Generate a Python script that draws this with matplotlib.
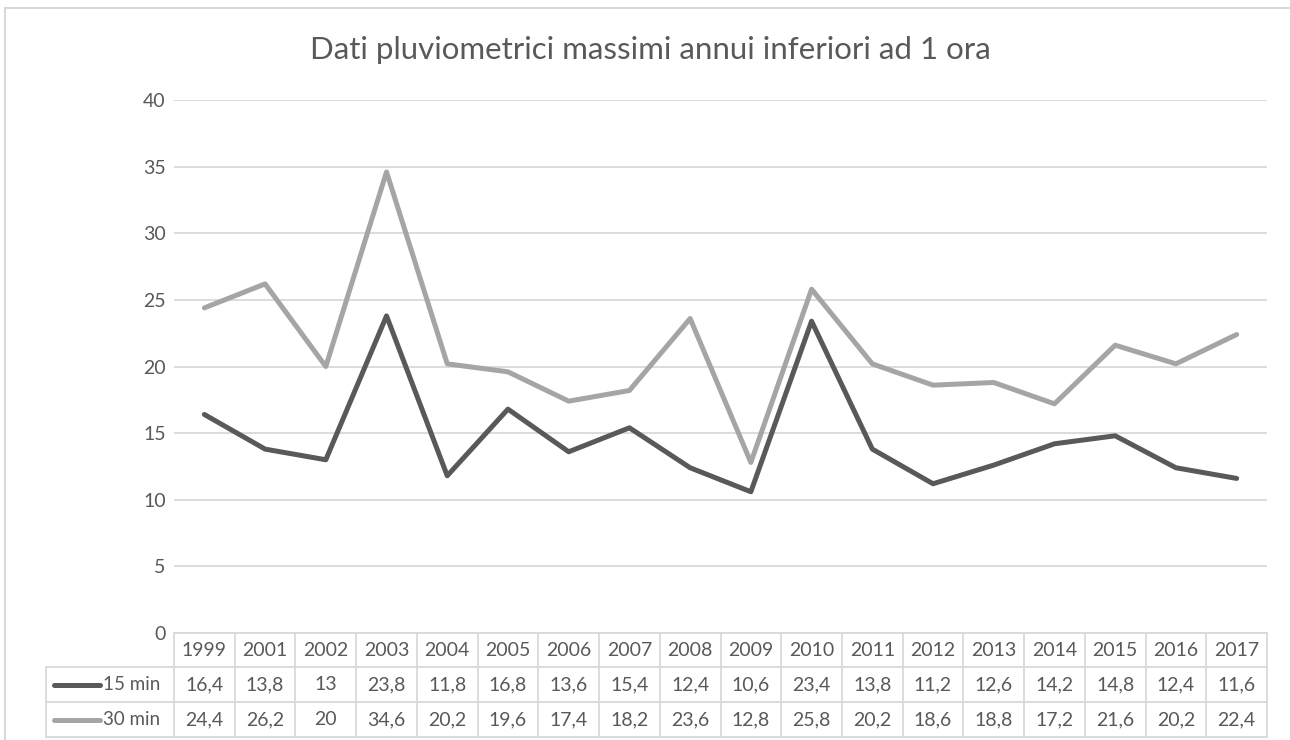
import matplotlib
matplotlib.use("Agg")
import matplotlib.pyplot as plt
from matplotlib.transforms import blended_transform_factory
from matplotlib.lines import Line2D
from matplotlib.patches import Rectangle

years = ["1999", "2001", "2002", "2003", "2004", "2005", "2006", "2007", "2008",
         "2009", "2010", "2011", "2012", "2013", "2014", "2015", "2016", "2017"]
min15 = [16.4, 13.8, 13, 23.8, 11.8, 16.8, 13.6, 15.4, 12.4, 10.6, 23.4, 13.8,
         11.2, 12.6, 14.2, 14.8, 12.4, 11.6]
min30 = [24.4, 26.2, 20, 34.6, 20.2, 19.6, 17.4, 18.2, 23.6, 12.8, 25.8, 20.2,
         18.6, 18.8, 17.2, 21.6, 20.2, 22.4]
series_names = ["15 min", "30 min"]
title = "Dati pluviometrici massimi annui inferiori ad 1 ora"
yticks = [0, 5, 10, 15, 20, 25, 30, 35, 40]

W, H = 1290, 740
FONT = ["Lato", "DejaVu Sans"]
TXT = "#595959"
GRID = "#D9D9D9"
colors = ["#595959", "#A5A5A5"]
FS = 14

fig = plt.figure(figsize=(W / 100, H / 100), dpi=100)

def fx(px):
    return px / W

def fy(py):
    return 1 - py / H

# outer chart border
fig.add_artist(Rectangle((fx(5), fy(760)), fx(1300) - fx(5), fy(8) - fy(760),
                         transform=fig.transFigure, fill=False, edgecolor=GRID, lw=1.5))

left_px, right_px, top_px, bot_px = 174, 1267, 100, 633
ax = fig.add_axes([fx(left_px), fy(bot_px), fx(right_px) - fx(left_px), fy(top_px) - fy(bot_px)])

x = list(range(len(years)))
data = [min15, min30]
for vals, c in zip(data[::-1], colors[::-1]):
    ax.plot(x, vals, color=c, lw=3.6, solid_joinstyle="round", solid_capstyle="round", zorder=3)

ax.set_xlim(-0.5, len(years) - 0.5)
ax.set_ylim(0, 40)
ax.set_yticks(yticks)
ax.set_yticklabels([str(v) for v in yticks], fontsize=FS, color=TXT, family=FONT)
ax.tick_params(axis="y", length=0, pad=6)
ax.tick_params(axis="x", length=0, labelbottom=False)
ax.grid(axis="y", color=GRID, lw=1.3)
ax.set_axisbelow(True)
for s in ax.spines.values():
    s.set_visible(False)

fig.text(fx(650), fy(50), title, ha="center", va="center", fontsize=22.5, color=TXT, family=FONT)

# data table
tr = blended_transform_factory(ax.transData, fig.transFigure)
rows = [633, 667, 702, 737]
n = len(years)
lkw = dict(color=GRID, lw=1.3, transform=tr, clip_on=False)
fig.add_artist(Line2D([-0.5, n - 0.5], [fy(rows[0])] * 2, **lkw))
for r in rows[1:]:
    fig.add_artist(Line2D([fx(46), fx(right_px)], [fy(r)] * 2, color=GRID, lw=1.3,
                          transform=fig.transFigure))
for i in range(n + 1):
    fig.add_artist(Line2D([i - 0.5, i - 0.5], [fy(rows[0]), fy(rows[3])], **lkw))
fig.add_artist(Line2D([fx(46), fx(46)], [fy(rows[1]), fy(rows[3])], color=GRID, lw=1.3,
                      transform=fig.transFigure))

def fmt(v):
    return ("%g" % v).replace(".", ",")

tkw = dict(ha="center", va="center", fontsize=FS, color=TXT, family=FONT, transform=tr)
for i, yr in enumerate(years):
    fig.text(i, fy((rows[0] + rows[1]) / 2), yr, **tkw)
for ri, vals in enumerate(data):
    yc = fy((rows[ri + 1] + rows[ri + 2]) / 2)
    for i, v in enumerate(vals):
        fig.text(i, yc, fmt(v), **tkw)
    fig.add_artist(Line2D([fx(54), fx(100)], [yc, yc], color=colors[ri], lw=3.6,
                          solid_capstyle="round", transform=fig.transFigure))
    fig.text(fx(103), yc, series_names[ri], ha="left", va="center", fontsize=FS - 0.5,
             color=TXT, family=FONT)

fig.savefig("out.png", dpi=100, facecolor="white")
